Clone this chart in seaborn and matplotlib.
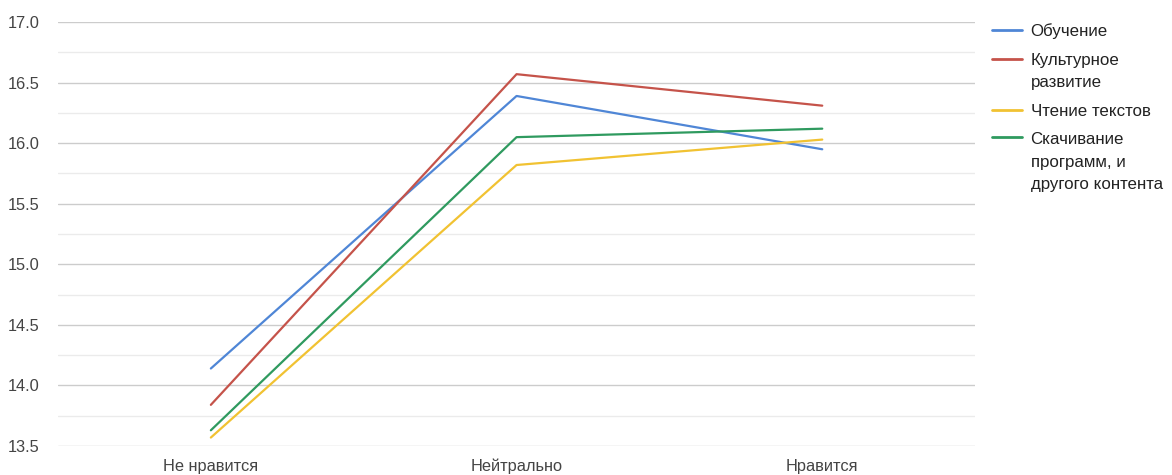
import matplotlib
matplotlib.use("Agg")
import matplotlib.pyplot as plt
import pandas as pd
import seaborn as sns
from matplotlib.legend_handler import HandlerLine2D
from matplotlib.ticker import FormatStrFormatter, MultipleLocator
from matplotlib.transforms import Affine2D

categories = ["Не нравится", "Нейтрально", "Нравится"]
series_names = [
    "Обучение",
    "Культурное\nразвитие",
    "Чтение текстов",
    "Скачивание\nпрограмм, и\nдругого контента",
]
obuchenie = [14.14, 16.39, 15.95]
kulturnoe = [13.84, 16.57, 16.31]
chtenie = [13.57, 15.82, 16.03]
skachivanie = [13.63, 16.05, 16.12]
colors = ["#4f86d6", "#c5534a", "#f1c232", "#2f9a5f"]

LEGEND_FS = 12.2
LINE_SPACING = 1.62


class TopLineHandler(HandlerLine2D):
    # put the legend line next to the first line of a wrapped label
    def __init__(self, nlines, **kw):
        super().__init__(**kw)
        self.nlines = nlines

    def create_artists(self, legend, orig_handle, xdescent, ydescent,
                       width, height, fontsize, trans):
        dy = (self.nlines - 1) / 2 * fontsize * LINE_SPACING * 0.92
        trans = Affine2D().translate(0, dy) + trans
        return super().create_artists(legend, orig_handle, xdescent, ydescent,
                                      width, height, fontsize, trans)


values = [obuchenie, kulturnoe, chtenie, skachivanie]
rows = []
for name, vals in zip(series_names, values):
    for cat, v in zip(categories, vals):
        rows.append({"category": cat, "series": name, "value": v})
df = pd.DataFrame(rows)

sns.set_theme(style="white")
plt.rcParams["font.family"] = ["Liberation Sans", "DejaVu Sans"]

fig = plt.figure(figsize=(11.72, 4.75), dpi=100)
ax = fig.add_axes([0.0495, 0.061, 0.7825, 0.8925])

sns.lineplot(
    data=df, x="category", y="value", hue="series",
    hue_order=series_names, palette=colors, sort=False,
    linewidth=1.6, ax=ax,
)

ax.set_xlim(-0.5, 2.5)
ax.set_ylim(13.5, 17.0)
ax.yaxis.set_major_locator(MultipleLocator(0.5))
ax.yaxis.set_minor_locator(MultipleLocator(0.25))
ax.yaxis.set_major_formatter(FormatStrFormatter("%.1f"))
ax.grid(axis="y", which="major", color="#cccccc", linewidth=1)
ax.grid(axis="y", which="minor", color="#ebebeb", linewidth=1)
ax.set_axisbelow(True)
for s in ax.spines.values():
    s.set_visible(False)
ax.tick_params(axis="both", which="both", length=0, labelsize=11.8, labelcolor="#444444")
ax.tick_params(axis="y", pad=36)
for lbl in ax.get_yticklabels():
    lbl.set_horizontalalignment("left")
ax.tick_params(axis="x", pad=9)
ax.set_xlabel("")
ax.set_ylabel("")

handles, labels = ax.get_legend_handles_labels()
handler_map = {h: TopLineHandler(lab.count("\n") + 1) for h, lab in zip(handles, labels)}
leg = ax.legend(
    handles, labels, handler_map=handler_map,
    loc="upper left", bbox_to_anchor=(1.011, 1.013), frameon=False,
    fontsize=LEGEND_FS, handlelength=1.8, handletextpad=0.48, labelspacing=0.8,
    borderaxespad=0,
)
for t in leg.get_texts():
    t.set_color("#222222")
    t.set_linespacing(LINE_SPACING)
for h in leg.get_lines():
    h.set_linewidth(2)

fig.savefig("out.png", dpi=100)
